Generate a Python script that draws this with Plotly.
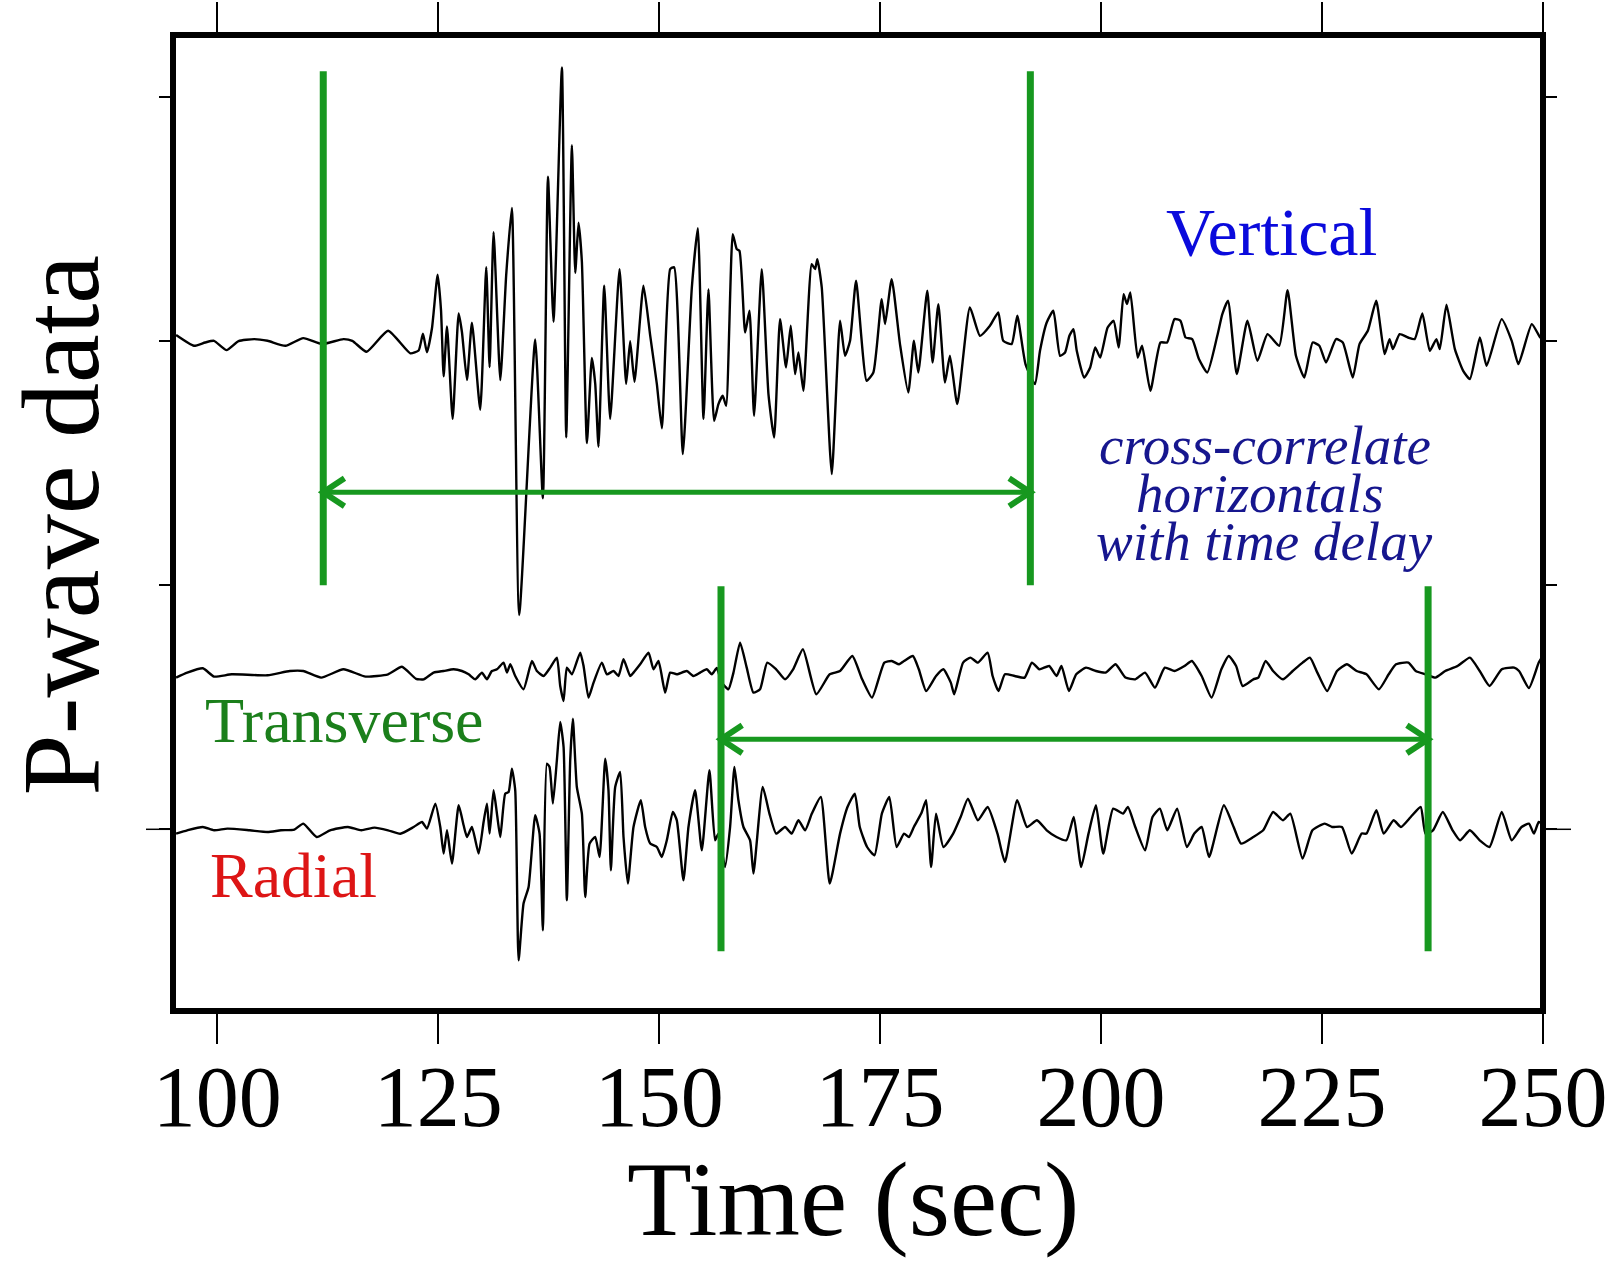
import plotly.graph_objects as go

# ---------------- data ----------------
TIME_RANGE = [95, 250]
X_TICKS = [100, 125, 150, 175, 200, 225, 250]
Y_TICKS = [0, 244, 488, 732]          # arbitrary amplitude units
Y_RANGE = [-181.7, 794.3]

BASE_V = 488   # vertical component offset
BASE_T = 154   # transverse component offset
BASE_R = 0     # radial component offset

# Vertical component
T_V = [95.35, 97.37, 98.63, 99.64, 101.06, 102.42, 104.19, 105.7, 107.72, 109.74,
       111.86, 114.28, 115.29, 116.9, 119.33, 121.85, 122.79, 123.28, 123.73, 124.3,
       124.94, 125.32, 125.62, 126.0, 126.64, 127.32, 127.69, 128.26, 128.82, 129.76,
       130.44, 130.82, 131.27, 132.03, 132.7, 133.34, 134.17, 135.98, 136.85, 137.42,
       138.05, 139.0, 139.49, 140.13, 140.51, 140.88, 141.26, 141.83, 142.39, 142.77,
       143.14, 143.79, 144.46, 145.52, 146.27, 146.72, 147.21, 148.23, 148.99, 149.74,
       150.31, 151.25, 151.7, 152.68, 153.7, 154.38, 155.02, 155.58, 156.22, 156.71,
       157.2, 157.58, 158.33, 158.78, 159.09, 159.73, 160.22, 160.74, 161.61, 162.37,
       163.01, 163.68, 164.36, 164.89, 165.38, 165.76, 166.32, 167.26, 167.64, 167.9,
       168.4, 169.53, 170.47, 171.03, 171.6, 172.28, 173.48, 174.24, 175.18, 175.56,
       176.31, 177.25, 178.19, 178.83, 179.32, 180.34, 180.94, 181.59, 182.34, 182.9,
       183.73, 185.16, 186.3, 187.43, 188.37, 188.93, 189.88, 190.52, 191.45, 192.52,
       193.09, 193.85, 194.6, 195.36, 195.93, 196.42, 196.88, 197.25, 198.09, 198.77,
       199.34, 199.9, 200.74, 201.42, 201.99, 202.55, 202.93, 203.31, 204.14, 204.64,
       205.58, 206.72, 207.47, 208.31, 208.99, 209.56, 210.31, 211.07, 212.02, 213.15,
       213.72, 214.36, 215.35, 216.56, 217.69, 218.83, 220.15, 221.1, 222.05, 222.99,
       223.94, 224.7, 225.45, 226.59, 227.35, 228.48, 229.24, 230.18, 231.13, 232.08,
       232.64, 233.02, 233.78, 234.73, 235.48, 236.35, 237.19, 237.94, 238.32, 239.08,
       240.03, 240.97, 241.73, 242.86, 243.62, 245.32, 246.46, 247.22, 248.73, 249.68,
       250.0]
A_V = [6.2, -4.5, -1.2, 0.5, -8.8, 0.2, 2.2, 0.5, -4.5, 3.2,
       -2.8, 2.2, 0.5, -10.5, 10.5, -12, -9.2, 7.5, -11, 13,
       66.7, 31.5, -35, 14.9, -77.6, 27.8, 9.3, -38.8, 18.6, -68.4,
       74.1, -25.8, 109.2, -38.8, 66.7, 133.3, -273.7, 1.9, -157.1, 164.7,
       19.5, 273.9, -96.1, 196.2, 68.5, 118.5, 79.6, -101.7, -16.6, -42.5,
       -105.4, 55.6, -77.6, 72.2, -42.5, 0.1, -40.6, 55.6, 5.6, -42.5,
       -86.9, 72.2, 74.1, -112.8, 53.7, 113.1, -77.6, 51.9, -79.5, -62.8,
       -54.5, -64.5, 107.2, 92.2, 90.5, 8.8, 30.5, -74.5, 72.2, -52.8,
       -96.2, 22.2, -26.2, 15.5, -32.8, -11.2, -49.5, 77.2, 72.2, 82.2,
       53.8, -132.8, 20.5, -14.5, 0.5, 60.5, -39.5, -31.2, 42.2, 17.2,
       62.2, -2.8, -51.2, 0.5, -31.2, 50.5, -21.2, 37.2, -41.2, -14.5,
       -62.8, 33.8, 5.5, 15.5, 28.8, 0.5, -2.8, 25.5, -22.8, -42.8,
       -9.5, 18.8, 30.5, -14.5, -11.2, 5.5, 12.2, -9.5, -36.2, -26.2,
       -6.2, -16.2, 13.8, 20.5, -6.2, 47.2, 37.2, 48.8, -16.2, -4.5,
       -49.5, -1.2, -1.2, 22.2, 20.5, 3.8, 2.2, -17.8, -31.2, 5.5,
       27.2, 40.5, -32.8, 20.5, -19.5, 7.2, -4.5, 51.2, -14.5, -36.2,
       -1.2, -4.5, -21.2, 2.2, -1.2, -36.2, -2.8, 10.5, 40.5, -12.8,
       2.2, -7.8, 7.2, 3.8, 2.2, 27.8, -9.5, 2.2, -7.8, 36.5,
       -7.8, -29.5, -37.8, 3.8, -24.5, 22.2, 0.5, -22.8, 17.2, 3.8,
       2.0]

# Transverse component
T_T = [95.35, 96.61, 98.38, 99.64, 101.66, 105.7, 108.22, 109.74, 111.76, 114.28,
       116.8, 119.33, 120.9, 122.5, 123.36, 124.49, 125.62, 126.75, 127.69, 128.45,
       129.2, 129.95, 130.52, 131.08, 131.65, 132.4, 132.78, 133.16, 133.72, 134.66,
       135.61, 136.17, 136.93, 137.68, 138.43, 138.81, 139.19, 139.56, 140.13, 141.07,
       141.45, 142.01, 142.58, 143.52, 144.09, 144.84, 145.4, 145.97, 146.72, 147.1,
       147.85, 148.8, 149.36, 149.93, 150.68, 151.25, 152.0, 153.13, 153.88, 154.64,
       155.39, 155.96, 156.52, 157.09, 157.84, 158.41, 159.16, 159.91, 160.67, 161.42,
       162.23, 163.24, 164.25, 165.16, 166.27, 167.78, 169.3, 170.47, 171.86, 172.97,
       174.09, 175.48, 176.32, 177.15, 177.71, 178.71, 179.38, 180.21, 181.33, 182.16,
       183.0, 183.38, 184.39, 185.22, 186.06, 187.17, 187.73, 188.4, 189.12, 190.23,
       191.35, 192.18, 193.02, 194.13, 194.96, 195.52, 196.36, 197.19, 198.3, 199.42,
       200.53, 201.64, 202.76, 203.87, 204.98, 206.1, 207.21, 208.32, 209.44, 210.27,
       211.38, 212.5, 213.61, 214.45, 215.28, 216.01, 217.23, 217.79, 218.62, 219.46,
       220.57, 221.68, 222.8, 223.63, 224.47, 225.58, 226.69, 227.81, 228.92, 230.03,
       231.43, 232.54, 233.37, 234.77, 235.6, 236.71, 237.83, 238.94, 240.33, 241.73,
       242.84, 243.95, 245.34, 246.74, 247.29, 248.41, 249.52, 250.0]
A_T = [-2.3, 2.7, 7, -1.3, 1, 0, 4.3, 4.3, -2.3, 6,
       -1.3, 1, 8.5, -3.5, -4, 2.7, 4.3, 6, 4.3, 1,
       -4, 2.7, -4, 4.3, 6, 12.7, 2.7, 11, -0.7, -14,
       14.3, 4.3, -0.7, 7.7, 17.7, -10.7, -25.7, 7.7, 1, 22.7,
       9.3, -22.3, -7.3, 12.7, 1, 4.3, -0.7, 16, -0.7, 2.7,
       11, 22.7, 6, 14.3, -17.3, 2.7, 1, 4.3, -0.7, 2.7,
       6, 1, 7.3, -7.3, -14, 2.7, 32.7, 7.7, -17.3, -14,
       12.7, 6, -4, 6, 26, -19, 1, 4.3, 19.3, -4,
       -22.3, 12.7, 14.3, 11, 14.3, 19.3, 6, -15.7, -0.7, 6,
       -7.3, -19, 12.7, 17.7, 12.7, 22.7, -0.7, -15.7, 1, -0.7,
       -2.3, 12.7, 6, 9.3, -0.7, 9.3, -15.7, 1, 7.7, 4.3,
       2.7, 11, -2.3, -4, 2.7, -12.3, 7.7, 4.3, 9.3, 14.3,
       -0.7, -22.3, 6, 19.3, 9.3, -10.7, -4, -2.3, 14.3, 4.3,
       -4, 4.3, 12.7, 17.7, 2.7, -15.7, 4.3, 11, 4.3, 1,
       -14, 1, 11, 12.7, 4.3, 1, -2.3, 4.3, 9.3, 17.7,
       4.3, -10.7, 6, 7.7, 4.3, -12.7, 12.7, 20]

# Radial component
T_R = [95.35, 96.61, 98.38, 99.64, 101.16, 103.68, 105.7, 107.21, 108.73, 109.74,
       111.25, 112.77, 114.79, 116.3, 117.81, 119.33, 120.72, 122.23, 123.17, 123.73,
       124.68, 125.24, 125.62, 126.0, 126.56, 127.32, 127.88, 128.26, 128.82, 129.58,
       130.14, 130.52, 130.82, 131.27, 131.65, 132.03, 132.59, 132.97, 133.34, 133.72,
       134.1, 134.66, 135.23, 135.98, 136.47, 136.85, 137.3, 137.6, 137.98, 138.43,
       138.81, 139.19, 139.56, 139.94, 140.24, 140.69, 141.26, 141.64, 142.13, 142.77,
       143.26, 143.9, 144.27, 144.54, 145.03, 145.59, 145.97, 146.46, 147.1, 147.93,
       148.42, 148.99, 149.74, 150.3, 150.87, 151.55, 152.0, 152.75, 153.32, 154.07,
       154.83, 155.69, 156.33, 156.71, 157.46, 158.03, 158.52, 158.97, 159.54, 160.29,
       160.67, 161.72, 162.48, 163.24, 164.25, 165.0, 165.76, 166.52, 167.28, 168.29,
       169.3, 170.47, 171.31, 172.14, 172.7, 173.53, 174.37, 175.2, 176.04, 176.87,
       177.71, 178.26, 178.82, 179.65, 180.21, 180.77, 181.33, 182.16, 183.27, 184.11,
       184.94, 186.06, 187.17, 188.28, 189.12, 190.51, 191.62, 192.74, 193.85, 194.96,
       196.08, 196.91, 197.75, 198.58, 199.42, 200.25, 201.37, 202.48, 203.04, 203.87,
       204.98, 205.82, 206.65, 207.49, 208.6, 209.71, 210.55, 211.38, 212.22, 213.89,
       215.0, 215.84, 217.23, 218.34, 219.46, 220.57, 221.41, 222.8, 223.91, 225.3,
       226.14, 227.25, 228.36, 229.48, 230.03, 231.15, 231.98, 233.1, 233.93, 235.04,
       236.16, 236.71, 237.55, 238.66, 239.77, 240.61, 241.73, 242.84, 243.95, 245.34,
       246.46, 247.57, 248.41, 248.97, 249.52, 250.0]
A_R = [-4.3, -1, 2.3, -1, 0.7, -1, -2.7, -1, -0.3, 5.7,
       -7.7, -1, 2.3, -1, 1.7, -1, -4.5, 2.3, 7.3, 0.7,
       25.7, 2.3, -24.3, -1, -34.3, 24, 4, -7.7, 2.3, -24.3,
       7.3, 25.7, -4.3, 39, 15.7, -7.7, 35.7, 37.3, 60.7, 39,
       -131, -74.3, -57.7, 14, -4.3, -101, 65.7, 62.3, 25.7, 69,
       107.3, 82.3, -71, 69, 110.7, 42.3, 15.7, -67.7, -14.3, -7.7,
       -27.7, 70.7, 39, -41, 42.3, 57.3, -7.7, -54.3, 2.3, 29,
       2.3, -14.3, -17.7, -27.7, -11, 17.3, 9, -51, 2.3, 39,
       -21, 59, -11, -4.3, -37.7, 2.3, 62.3, 29, 2.3, -11,
       -44.3, 42.3, 15.7, -4.3, 2.3, -4.3, 9, -1, 15.7, 32.3,
       -54.3, -4.3, 22.3, 35.7, 2.3, -17.7, -26, 15.7, 32.3, -17.7,
       -4.3, -7.7, 2.3, 15.7, 29, -37.7, 15.7, -17.7, -4.3, 12.3,
       30.7, 9, 22.3, -4.3, -32.7, 29, 2.3, 9, -1, -7.7,
       -11, 12.3, -37.7, -4.3, 24, -24.3, 20.7, 15.7, 22.3, 2.3,
       -21, 12.3, 20.7, -1, 20.7, -17.7, -4.3, 2.3, -27.7, 24,
       2.3, -14.3, -7.7, -1, 17.3, 9, 15.7, -29.3, -1, 5.7,
       2.3, 2.3, -24.3, -4.3, -4.3, 19, -4.3, 9, 2.3, 12.3,
       22.3, -4.3, -1, 17.3, -1, -11, -1, -11, -17.7, 17.3,
       -11, 2.3, 5.7, -4.3, 7.3, 5]

# Correlation windows (time, sec) and their drawing extents / arrow levels
WIN_V = [112, 192]
WIN_H = [157, 237]
WIN_V_Y = [244, 758]
WIN_H_Y = [-122, 243]
ARROW_V_Y = 337
ARROW_H_Y = 90

LABELS = {
    "Vertical": (219.3, 597, "#0a0adc", 68),
    "Transverse": (114.4, 109, "#1b7f1b", 64),
    "Radial": (108.6, -46, "#dd1515", 64),
}
NOTE_LINES = ["cross-correlate", "horizontals", "with time delay"]
NOTE_POS = [(218.5, 384), (218.0, 336), (218.5, 288)]

# ---------------- styles ----------------
GREEN = "#17981f"
SERIF = "Liberation Serif, Times New Roman, serif"
HEAD_DX = 2.4    # arrowhead length in seconds
HEAD_DY = 14     # arrowhead half-height in amplitude units
PLOT_W = 1612 - 172.5 - 68.7   # plot-area width in px (for tick lengths in paper units)

fig = go.Figure()

for t, a, base in [(T_V, A_V, BASE_V), (T_T, A_T, BASE_T), (T_R, A_R, BASE_R)]:
    fig.add_trace(go.Scatter(x=t, y=[base + v for v in a], mode="lines",
                             line=dict(color="black", width=2.4, shape="spline", smoothing=0.5),
                             hoverinfo="skip", showlegend=False))

def window(win, yext, ay):
    for t in win:
        fig.add_trace(go.Scatter(x=[t, t], y=yext, mode="lines",
                                 line=dict(color=GREEN, width=7), hoverinfo="skip",
                                 showlegend=False))
    fig.add_trace(go.Scatter(x=win, y=[ay, ay], mode="lines",
                             line=dict(color=GREEN, width=5), hoverinfo="skip",
                             showlegend=False))
    t0, t1 = win
    fig.add_trace(go.Scatter(x=[t0 + HEAD_DX, t0, t0 + HEAD_DX], y=[ay + HEAD_DY, ay, ay - HEAD_DY],
                             mode="lines", line=dict(color=GREEN, width=6), hoverinfo="skip",
                             showlegend=False))
    fig.add_trace(go.Scatter(x=[t1 - HEAD_DX, t1, t1 - HEAD_DX], y=[ay + HEAD_DY, ay, ay - HEAD_DY],
                             mode="lines", line=dict(color=GREEN, width=6), hoverinfo="skip",
                             showlegend=False))

window(WIN_V, WIN_V_Y, ARROW_V_Y)
window(WIN_H, WIN_H_Y, ARROW_H_Y)

annotations = []
for text, (x, y, c, s) in LABELS.items():
    annotations.append(dict(x=x, y=y, xref="x", yref="y", text=text, showarrow=False,
                            xanchor="center", yanchor="middle",
                            font=dict(family=SERIF, size=s, color=c)))
for text, (x, y) in zip(NOTE_LINES, NOTE_POS):
    annotations.append(dict(x=x, y=y, xref="x", yref="y", text="<i>" + text + "</i>",
                            showarrow=False, xanchor="center", yanchor="middle",
                            font=dict(family=SERIF, size=55, color="#16168e")))
annotations.append(dict(x=0.4964, y=-0.193, xref="paper", yref="paper", text="Time (sec)",
                        showarrow=False, xanchor="center", yanchor="middle",
                        font=dict(family=SERIF, size=106, color="black")))
annotations.append(dict(x=-0.082, y=0.4982, xref="paper", yref="paper", text="P-wave data",
                        showarrow=False, xanchor="center", yanchor="middle", textangle=-90,
                        font=dict(family=SERIF, size=110, color="black")))

shapes = [dict(type="rect", xref="paper", yref="paper", x0=0, x1=1, y0=0, y1=1,
               line=dict(color="black", width=6), layer="above")]
# longer ticks at the radial baseline on both sides
shapes.append(dict(type="line", xref="paper", yref="y", x0=-27 / PLOT_W, x1=0,
                   y0=BASE_R, y1=BASE_R, line=dict(color="black", width=1.5)))
shapes.append(dict(type="line", xref="paper", yref="y", x0=1, x1=1 + 28 / PLOT_W,
                   y0=BASE_R, y1=BASE_R, line=dict(color="black", width=1.5)))

fig.update_layout(
    width=1612, height=1264,
    margin=dict(l=172.5, r=68.7, t=34.7, b=253.3, pad=0, autoexpand=False),
    paper_bgcolor="white", plot_bgcolor="white",
    showlegend=False,
    annotations=annotations,
    shapes=shapes,
    xaxis=dict(range=TIME_RANGE, tickvals=X_TICKS, ticktext=[str(v) for v in X_TICKS],
               ticks="outside", ticklen=32, tickwidth=1.5, tickcolor="black",
               mirror="ticks", showline=False, showgrid=False, zeroline=False,
               automargin=False, ticklabelstandoff=-21,
               tickfont=dict(family=SERIF, size=86, color="black")),
    yaxis=dict(range=Y_RANGE, tickvals=Y_TICKS, ticks="outside", ticklen=13,
               tickwidth=1.5, tickcolor="black", mirror="ticks", showline=False,
               showgrid=False, zeroline=False, showticklabels=False, automargin=False),
)

fig.write_html("out.html", config={"displayModeBar": False})
